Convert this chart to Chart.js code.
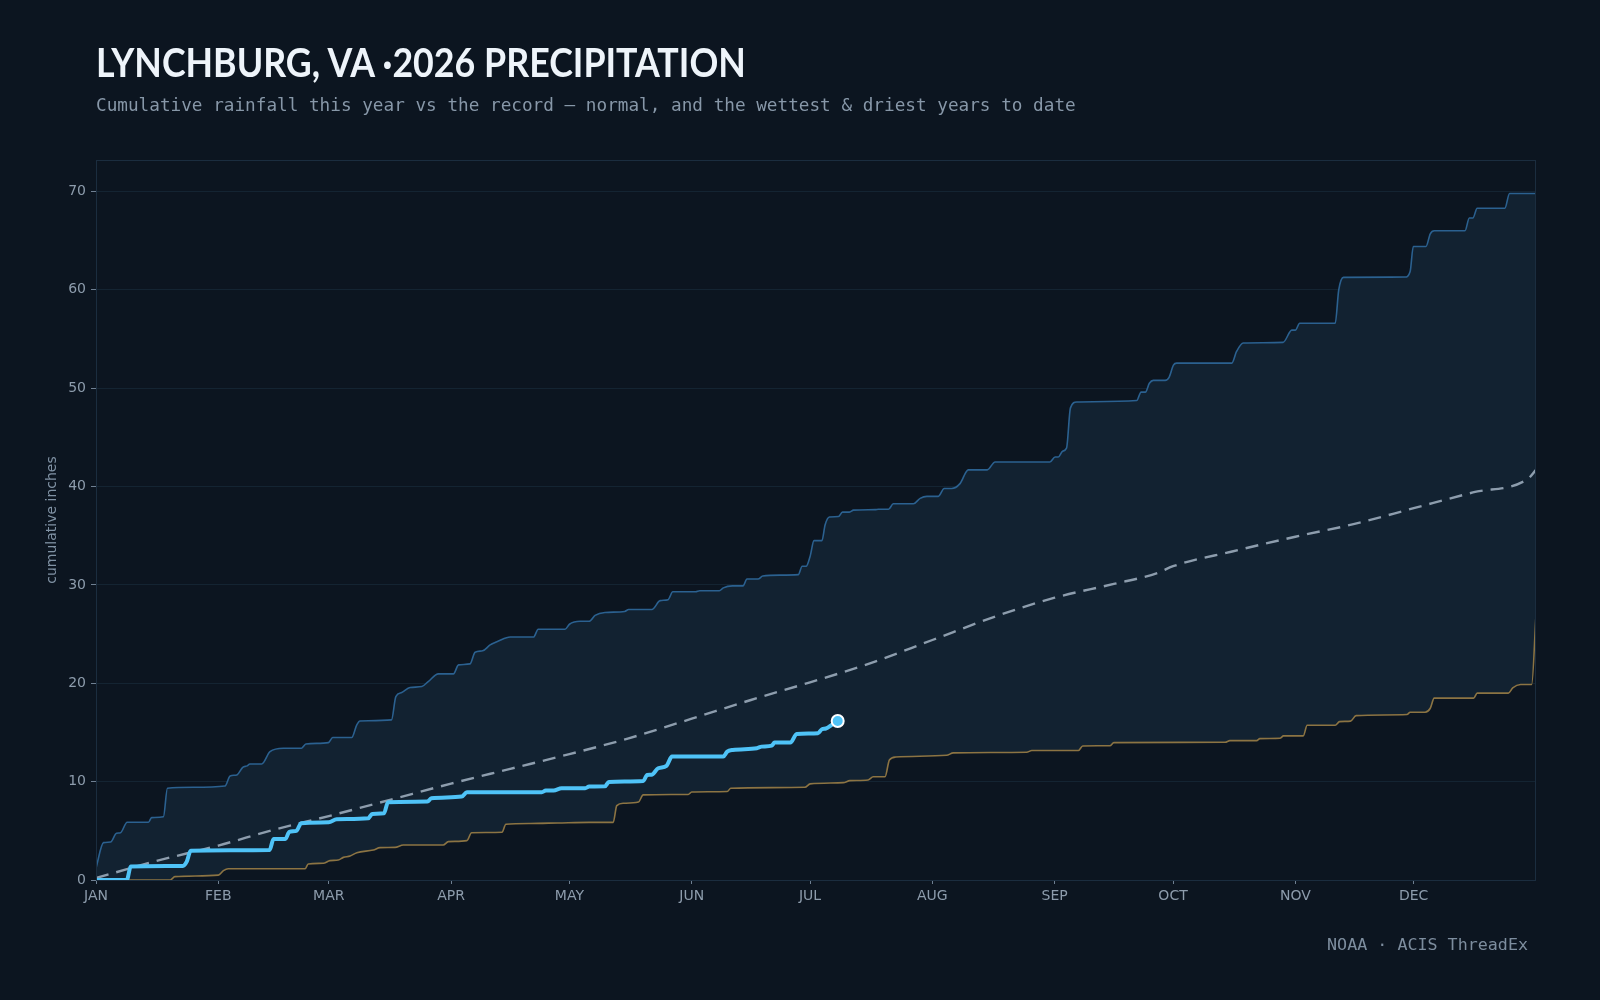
<!DOCTYPE html>
<html>
<head>
<meta charset="utf-8">
<title>Lynchburg precipitation</title>
<script src="https://cdn.jsdelivr.net/npm/chart.js@4.4.1/dist/chart.umd.min.js"></script>
<style>
  html, body {
    margin: 0;
    padding: 0;
    background: #0c1520;
  }
  #page {
    position: relative;
    width: 1600px;
    height: 1000px;
    overflow: hidden;
  }
  #title {
    position: absolute;
    left: 96px;
    top: 41px;
    font-family: Lato, "Open Sans", sans-serif;
    font-weight: bold;
    font-size: 41px;
    line-height: 41px;
    color: #eef4fa;
    white-space: pre;
    transform-origin: left top;
  }
  #subtitle {
    position: absolute;
    left: 96px;
    top: 95px;
    font-family: "DejaVu Sans Mono", monospace;
    font-size: 17.7px;
    line-height: 21px;
    color: #8797a8;
    white-space: pre;
  }
  #source {
    position: absolute;
    right: 72px;
    top: 934px;
    font-family: "DejaVu Sans Mono", monospace;
    font-size: 16.7px;
    line-height: 20px;
    color: #7d8d9e;
    white-space: pre;
  }
  #chartBox {
    position: absolute;
    left: 0;
    top: 0;
    width: 1600px;
    height: 1000px;
  }
</style>
</head>
<body>
<div id="page">
  <div id="chartBox"><canvas id="precipChart" width="1600" height="1000"></canvas></div>
  <div id="title">LYNCHBURG, VA ·2026 PRECIPITATION</div>
  <div id="subtitle">Cumulative rainfall this year vs the record — normal, and the wettest &amp; driest years to date</div>
  <div id="source">NOAA · ACIS ThreadEx</div>
</div>

<script>
// x = day of year (0 = Jan 1), y = cumulative inches

const monthStarts = [0, 31, 59, 90, 120, 151, 181, 212, 243, 273, 304, 334];
const monthLabels = ["JAN", "FEB", "MAR", "APR", "MAY", "JUN", "JUL", "AUG", "SEP", "OCT", "NOV", "DEC"];

// this year, through Jul 8
const yearDays = [0, 7.8, 8.8, 22, 23, 24, 44, 45, 48, 49, 50.8, 52, 59, 61, 69, 70, 73, 74, 84, 85, 92.7,
  94, 113, 114, 116, 118, 124, 125, 129, 130, 138.7, 139.7, 140.8, 142.5, 144.6, 146, 159, 160, 161.4,
  167.5, 168.7, 171.3, 172, 176, 177.6, 183, 184, 185, 186.5, 188];
const yearVals = [0, 0, 1.36, 1.43, 1.86, 2.98, 3.05, 4.17, 4.17, 4.9, 5.0, 5.77, 5.87, 6.17, 6.27, 6.71, 6.78,
  7.9, 7.97, 8.31, 8.48, 8.92, 8.92, 9.09, 9.1, 9.33, 9.33, 9.5, 9.52, 9.97, 10.07, 10.68, 10.7, 11.36, 11.6,
  12.55, 12.55, 13.05, 13.22, 13.4, 13.56, 13.66, 13.97, 13.97, 14.85, 14.92, 15.33, 15.4, 15.77, 16.17];

// normal
const normalDays = [0, 15, 31, 45, 59, 75, 90, 105, 120, 135, 151, 166, 181, 196, 212, 228, 243, 258,
  269, 273, 288, 304, 319, 334, 349, 363, 365];
const normalVals = [0.2, 1.9, 3.5, 5.1, 6.5, 8.2, 9.8, 11.3, 12.8, 14.4, 16.4, 18.3, 20.1, 22.0, 24.4, 26.8,
  28.7, 30.1, 31.2, 31.9, 33.4, 34.9, 36.2, 37.8, 39.4, 40.8, 41.7];

// wettest year to date
const wetDays = [0, 1.9, 3.7, 5.2, 6.2, 7.9, 13.3, 14.1, 17.1, 18.1, 24.7, 32.7, 34, 35.7, 37.2, 38.3, 39, 42,
  44.1, 47.5, 52.1, 53.2, 58.9, 60, 64.8, 66.1, 66.9, 74.9, 76, 77.5, 79.6, 82.6, 84.2, 86.8, 90.6, 91.9,
  94.8, 96.1, 98, 99.9, 102, 105, 110.9, 112.1, 118.9, 120, 122.7, 125, 126.5, 129, 134, 135, 140.9, 143,
  145, 146.2, 152, 153, 158, 159, 161.3, 164, 165, 167.8, 169, 173.4, 178, 179, 180, 181, 182, 184, 184.8,
  185.9, 188.2, 189.2, 191, 192, 197.5, 198.3, 200.9, 202.1, 207.2, 208.9, 210.6, 213.5, 215, 216.9, 219,
  221.1, 225.9, 227.9, 241.8, 243.1, 243.9, 245, 246, 247, 248.6, 263.8, 264.9, 266, 267, 268, 271, 272,
  273.1, 273.9, 287.9, 289.1, 290.8, 300.9, 303.1, 304, 305.1, 314.1, 315, 316.2, 331.8, 333.1, 333.9,
  337.1, 338.2, 339.2, 347, 348.1, 349, 350.1, 357.1, 358.3, 365];
const wetVals = [1.2, 3.8, 3.86, 4.75, 4.8, 5.87, 5.87, 6.34, 6.44, 9.33, 9.43, 9.56, 10.58, 10.68, 11.46,
  11.6, 11.8, 11.8, 13.05, 13.4, 13.4, 13.83, 13.97, 14.48, 14.48, 15.77, 16.17, 16.28, 18.65, 19.06, 19.57,
  19.67, 20.17, 20.96, 20.96, 21.87, 21.97, 23.16, 23.3, 23.9, 24.3, 24.7, 24.7, 25.5, 25.5, 26.0, 26.3,
  26.3, 26.9, 27.2, 27.3, 27.5, 27.5, 28.4, 28.5, 29.3, 29.3, 29.4, 29.4, 29.7, 29.9, 29.9, 30.6, 30.6,
  30.9, 31.0, 31.05, 31.9, 31.9, 32.9, 34.5, 34.5, 36.1, 36.9, 36.95, 37.4, 37.4, 37.6, 37.65, 37.7, 37.7,
  38.25, 38.25, 38.8, 39.0, 39.0, 39.8, 39.8, 40.3, 41.7, 41.7, 42.5, 42.5, 43.0, 43.0, 43.6, 43.9, 48.0,
  48.6, 48.75, 49.6, 49.6, 50.5, 50.8, 50.8, 51.1, 52.35, 52.55, 52.55, 53.74, 54.6, 54.66, 55.9, 55.9,
  56.6, 56.6, 60.0, 61.27, 61.3, 61.87, 64.4, 64.4, 65.7, 66.0, 66.0, 67.3, 67.3, 68.3, 68.3, 69.8, 69.8];

// driest year to date
const dryDays = [0, 18.8, 20, 31, 32.3, 33.5, 53, 53.8, 57.6, 59.3, 61.4, 62.7, 64.4, 66.1, 70.3, 72, 75.8,
  77.9, 88, 89.3, 94, 95.2, 102.9, 103.9, 110, 117, 125, 131.1, 132, 133.7, 137.5, 138.7, 150.1, 151, 160,
  160.9, 179.7, 181, 189.4, 191.1, 195.7, 197, 200, 201.1, 202.7, 215.6, 217.3, 235.9, 237.2, 249, 250.1,
  257, 258, 286.2, 287.4, 294.2, 295, 300.1, 301, 306, 307, 314.1, 315.2, 318, 319.4, 332.3, 333.1, 336.9,
  338.2, 339.2, 349.2, 350.1, 358, 359.1, 361.1, 363.9, 365];
const dryVals = [0, 0, 0.34, 0.5, 0.95, 1.15, 1.15, 1.63, 1.7, 1.97, 2.03, 2.3, 2.44, 2.78, 3.05, 3.29, 3.32,
  3.56, 3.56, 3.9, 4.0, 4.81, 4.85, 5.66, 5.75, 5.8, 5.86, 5.86, 7.56, 7.8, 7.93, 8.65, 8.7, 8.95, 9.0,
  9.33, 9.43, 9.77, 9.9, 10.1, 10.17, 10.5, 10.5, 12.2, 12.5, 12.68, 12.92, 12.99, 13.16, 13.16, 13.63,
  13.65, 13.97, 14.0, 14.17, 14.17, 14.37, 14.41, 14.65, 14.65, 15.73, 15.73, 16.1, 16.15, 16.71, 16.82,
  17.06, 17.06, 17.46, 18.49, 18.49, 19.0, 19.0, 19.53, 19.87, 19.87, 26.96];

const yTicks = [0, 10, 20, 30, 40, 50, 60, 70];

function toPoints(days, vals) {
  return days.map((d, i) => ({ x: d, y: vals[i] }));
}

// thin frame round the plot area
const frame = {
  id: "frame",
  afterDraw(chart) {
    const a = chart.chartArea;
    const ctx = chart.ctx;
    ctx.save();
    ctx.strokeStyle = "#1b2d3f";
    ctx.lineWidth = 1;
    ctx.strokeRect(a.left + 0.5, a.top + 0.5, a.right - a.left - 1, a.bottom - a.top);
    ctx.restore();
  },
};

const lastIdx = yearDays.length - 1;

new Chart(document.getElementById("precipChart"), {
  type: "line",
  data: {
    datasets: [
      {
        label: "2026",
        data: toPoints(yearDays, yearVals),
        borderColor: "#4fc3f7",
        borderWidth: 4,
        cubicInterpolationMode: "monotone",
        pointRadius: yearDays.map((d, i) => (i === lastIdx ? 6 : 0)),
        pointBackgroundColor: "#4fc3f7",
        pointBorderColor: "#ffffff",
        pointBorderWidth: 2,
        fill: false,
      },
      {
        label: "Normal",
        data: toPoints(normalDays, normalVals),
        borderColor: "#8d9dad",
        borderWidth: 2.4,
        borderDash: [13, 8],
        cubicInterpolationMode: "monotone",
        pointRadius: 0,
        fill: false,
      },
      {
        label: "Wettest",
        data: toPoints(wetDays, wetVals),
        borderColor: "#2b6190",
        borderWidth: 1.6,
        cubicInterpolationMode: "monotone",
        pointRadius: 0,
        fill: "+1",
        backgroundColor: "#122231",
      },
      {
        label: "Driest",
        data: toPoints(dryDays, dryVals),
        borderColor: "#8c7443",
        borderWidth: 1.6,
        cubicInterpolationMode: "monotone",
        pointRadius: 0,
        fill: false,
      },
    ],
  },
  options: {
    responsive: false,
    animation: false,
    layout: {
      padding: { left: 40, top: 160, right: 64, bottom: 80 },
    },
    plugins: {
      legend: { display: false },
      tooltip: { enabled: false },
      filler: { drawTime: "beforeDatasetsDraw" },
    },
    scales: {
      x: {
        type: "linear",
        min: 0,
        max: 365,
        afterBuildTicks: (axis) => {
          axis.ticks = monthStarts.map((v) => ({ value: v }));
        },
        afterFit: (axis) => {
          axis.height = 40;
        },
        grid: {
          drawOnChartArea: false,
          drawTicks: true,
          tickLength: 4,
          color: "#6f8092",
        },
        border: { display: false },
        ticks: {
          color: "#8d9cac",
          font: { family: "DejaVu Sans", size: 14 },
          padding: 4,
          maxRotation: 0,
          autoSkip: false,
          callback: (v) => monthLabels[monthStarts.indexOf(v)],
        },
      },
      y: {
        min: 0,
        max: 73.2,
        afterBuildTicks: (axis) => {
          axis.ticks = yTicks.map((v) => ({ value: v }));
        },
        afterFit: (axis) => {
          axis.width = 56;
        },
        grid: {
          color: "#142432",
          lineWidth: 1,
          drawTicks: true,
          tickLength: 5,
          tickColor: "#6f8092",
        },
        border: { display: false },
        ticks: {
          color: "#8d9cac",
          font: { family: "DejaVu Sans", size: 14 },
          padding: 5,
        },
        title: {
          display: true,
          text: "cumulative inches",
          color: "#8092a4",
          font: { family: "DejaVu Sans", size: 14 },
          padding: { top: 4, bottom: 4 },
        },
      },
    },
  },
  plugins: [frame],
});

// fit the title to the width it has in the original
const title = document.getElementById("title");
const wantWidth = 650;
const gotWidth = title.getBoundingClientRect().width;
if (gotWidth > 0) {
  title.style.transform = "scaleX(" + (wantWidth / gotWidth).toFixed(3) + ")";
}
</script>
</body>
</html>
